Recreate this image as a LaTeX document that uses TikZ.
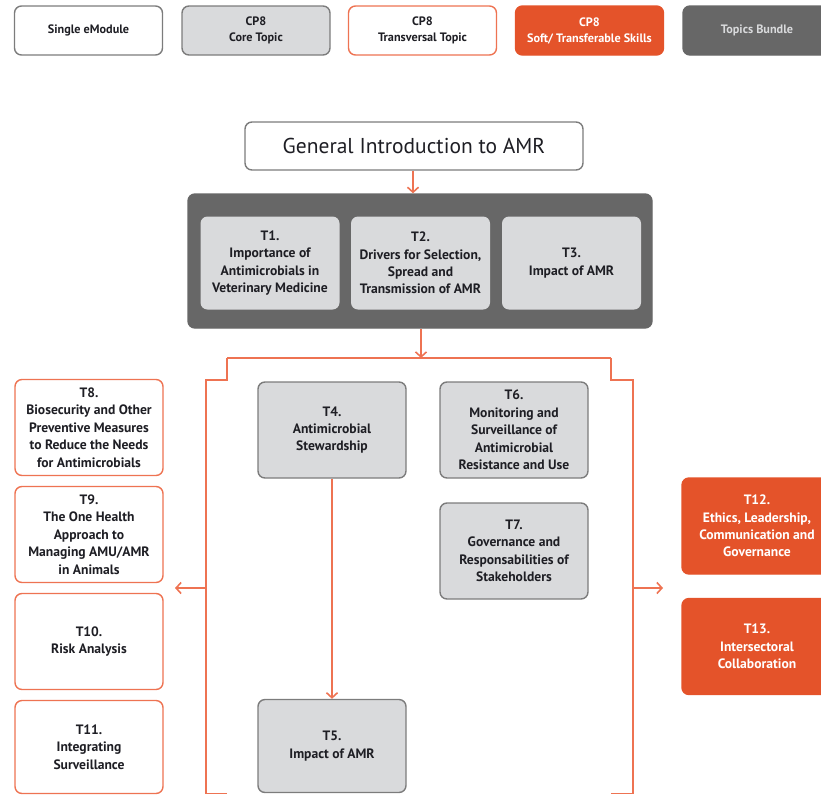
\documentclass[tikz,border=0pt]{standalone}
\usepackage{fontspec}
\setmainfont{PT Sans}
\usetikzlibrary{arrows.meta}
\definecolor{amrorange}{HTML}{E4532A}
\definecolor{lineorange}{HTML}{EE7352}
\definecolor{bundlegrey}{HTML}{676767}
\definecolor{coregrey}{HTML}{D9DADC}
\definecolor{edgegrey}{HTML}{7C7C7C}
\definecolor{textdark}{HTML}{1E1E24}

\begin{document}
\begin{tikzpicture}[x=1pt,y=-1pt,
  >={Straight Barb[length=5pt,width=11pt]},
  box/.style={rounded corners=7pt, line width=1.4pt, align=center,
    text=textdark, inner sep=1pt, minimum width=148pt, minimum height=96pt,
    font=\fontsize{13.6}{17.4}\selectfont\bfseries},
  key/.style={box, minimum height=49pt, font=\fontsize{12.2}{16}\selectfont\bfseries},
  single/.style={draw=edgegrey, fill=white},
  core/.style={draw=edgegrey, fill=coregrey},
  transv/.style={draw=lineorange, fill=white},
  soft/.style={draw=amrorange, fill=amrorange, text=white},
  bundle/.style={draw=bundlegrey, fill=bundlegrey, text=coregrey},
  link/.style={draw=lineorange, line width=1.6pt}]
  \clip (0,0) rectangle (821,795);

  % key
  \node[key,single] (kSingle) at (88.5,30.5) {Single eModule};
  \node[key,core]   (kCore)   at (256,30.5)  {CP8\\Core Topic};
  \node[key,transv] (kTransv) at (422.5,30.5) {CP8\\Transversal Topic};
  \node[key,soft]   (kSoft)   at (589.5,30.5) {CP8\\Soft/ Transferable Skills};
  \node[key,bundle] (kBundle) at (757,30.5) {Topics Bundle};

  % introduction and bundle
  \node[box,single,minimum width=338pt,minimum height=48pt,
    font=\fontsize{21.5}{24}\selectfont] (intro) at (414,146) {General Introduction to AMR};
  \node[box,bundle,minimum width=464pt,minimum height=134pt] (bundle) at (420,261) {};
  \node[box,core,draw=none,minimum width=139pt,minimum height=93pt] (T1) at (270,263)
    {T1.\\Importance of\\Antimicrobials in\\Veterinary Medicine};
  \node[box,core,draw=none,minimum width=139pt,minimum height=93pt] (T2) at (420.5,263)
    {T2.\\Drivers for Selection,\\Spread and\\Transmission of AMR};
  \node[box,core,draw=none,minimum width=139pt,minimum height=93pt] (T3) at (571.5,263)
    {T3.\\Impact of AMR};

  % core topics
  \node[box,core] (T4) at (332,430) {T4.\\Antimicrobial\\Stewardship};
  \node[box,core,minimum height=93pt] (T5) at (332,746) {T5.\\Impact of AMR};
  \node[box,core] (T6) at (514,430)
    {T6.\\Monitoring and\\Surveillance of\\Antimicrobial\\Resistance and Use};
  \node[box,core] (T7) at (514,551)
    {T7.\\Governance and\\Responsabilities of\\Stakeholders};

  % transversal topics
  \node[box,transv] (T8) at (89,427.5)
    {T8.\\Biosecurity and Other\\Preventive Measures\\to Reduce the Needs\\for Antimicrobials};
  \node[box,transv] (T9) at (89,534.5)
    {T9.\\The One Health\\Approach to\\Managing AMU/AMR\\in Animals};
  \node[box,transv] (T10) at (89,641.5) {T10.\\Risk Analysis};
  \node[box,transv,minimum height=93pt] (T11) at (89,747) {T11.\\Integrating\\Surveillance};

  % soft skills
  \node[box,soft,minimum width=150pt] (T12) at (757,526)
    {T12.\\Ethics, Leadership,\\Communication and\\Governance};
  \node[box,soft,minimum width=150pt] (T13) at (757,646.5)
    {T13.\\Intersectoral\\Collaboration};

  % bracket
  \coordinate (split) at (421,358);
  \coordinate (lTop) at (227,358);
  \coordinate (rTop) at (611,358);
  \coordinate (lBend) at (206,380);
  \coordinate (rBend) at (633,380);
  \coordinate (lFoot) at (206,793.5);
  \coordinate (rFoot) at (633,793.5);
  \coordinate (lMid) at (206,588);
  \coordinate (rMid) at (633,588);
  \coordinate (lTip) at (175,588);
  \coordinate (rTip) at (663,588);

  \draw[link,->] (intro.south -| 413,0) -- (bundle.north -| 413,0);
  \draw[link,->] (bundle.south -| split) -- (split);
  \draw[link] (lTop) -- (rTop);
  \draw[link] (lTop) -- (lTop |- lBend) -- (lBend) -- (lFoot) -- (lFoot -| lTop);
  \draw[link] (rTop) -- (rTop |- rBend) -- (rBend) -- (rFoot) -- (rFoot -| rTop);
  \draw[link,->] (lMid) -- (lTip);
  \draw[link,->] (rMid) -- (rTip);
  \draw[link,->] (T4) -- (T5);
\end{tikzpicture}
\end{document}
